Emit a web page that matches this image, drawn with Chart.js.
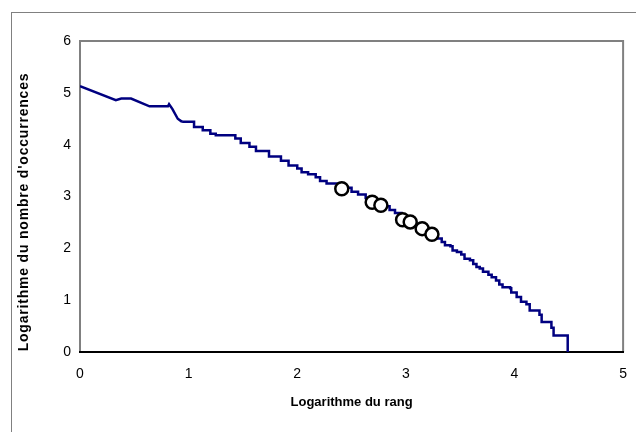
<!DOCTYPE html>
<html>
<head>
<meta charset="utf-8">
<script src="https://cdn.jsdelivr.net/npm/chart.js@4/dist/chart.umd.min.js"></script>
<style>
  html, body { margin: 0; padding: 0; background: #fff; }
  #wrap { width: 636px; height: 432px; position: relative; }
</style>
</head>
<body>
<div id="wrap"><canvas id="rangChart" width="636" height="432"></canvas></div>
<script>
    // --- DATA ---
    // début de courbe (partie sans marches), log10
    const debutX = [0, 0.33, 0.38, 0.47, 0.64, 0.81, 0.82, 0.85, 0.90, 0.94];
    const debutY = [5.13, 4.86, 4.89, 4.89, 4.74, 4.74, 4.78, 4.69, 4.50, 4.44];

    // suite en escalier : début gauche de chaque palier
    const marcheX = [0.94, 1.05, 1.13, 1.20, 1.25, 1.43, 1.48, 1.56, 1.62, 1.74, 1.85, 1.92, 2.00, 2.04, 2.10, 2.17, 2.21, 2.27, 2.41, 2.50, 2.56, 2.63, 2.69, 2.78, 2.85, 2.90, 2.96, 3.02, 3.08, 3.14, 3.19, 3.24, 3.29, 3.33, 3.36, 3.41, 3.43, 3.47, 3.51, 3.54, 3.59, 3.62, 3.65, 3.68, 3.71, 3.76, 3.79, 3.83, 3.86, 3.89, 3.96, 3.97, 4.02, 4.06, 4.11, 4.14, 4.23, 4.25, 4.34, 4.36, 4.49];
    const marcheY = [4.44, 4.34, 4.28, 4.21, 4.18, 4.12, 4.03, 3.96, 3.88, 3.77, 3.69, 3.60, 3.54, 3.47, 3.43, 3.37, 3.30, 3.25, 3.17, 3.09, 3.04, 2.97, 2.92, 2.81, 2.74, 2.68, 2.60, 2.54, 2.47, 2.41, 2.34, 2.26, 2.19, 2.12, 2.06, 2.04, 1.96, 1.93, 1.88, 1.80, 1.77, 1.70, 1.64, 1.61, 1.55, 1.49, 1.44, 1.38, 1.30, 1.25, 1.23, 1.15, 1.06, 0.97, 0.92, 0.80, 0.72, 0.58, 0.47, 0.32, 0];

    // mots marqués (cercles)
    const motsX = [2.41, 2.69, 2.77, 2.97, 3.04, 3.15, 3.24];
    const motsY = [3.15, 2.89, 2.83, 2.55, 2.51, 2.38, 2.27];

    const xTicks = [0, 1, 2, 3, 4, 5];
    const yTicks = [0, 1, 2, 3, 4, 5, 6];
    const xTitle = 'Logarithme du rang';
    const yTitle = "Logarithme du nombre d'occurrences";

    const FONT = 'Liberation Sans, Arial, sans-serif';
    const BLEU = '#000080';

    // cadre extérieur + bordure grise de la zone de tracé + titre Y
    const framePlugin = {
        id: 'frame',
        beforeDraw(chart) {
            const ctx = chart.ctx;
            const a = chart.chartArea;
            ctx.save();
            ctx.strokeStyle = '#808080';
            ctx.lineWidth = 1;
            ctx.strokeRect(11.5, 12.5, 700, 500);
            ctx.lineWidth = 2;
            ctx.beginPath();
            ctx.moveTo(a.left, a.bottom);
            ctx.lineTo(a.left, a.top);
            ctx.lineTo(a.right, a.top);
            ctx.lineTo(a.right, a.bottom);
            ctx.stroke();
            ctx.restore();
        },
        afterDraw(chart) {
            const ctx = chart.ctx;
            ctx.save();
            ctx.translate(24, 212);
            ctx.rotate(-Math.PI / 2);
            ctx.font = 'bold 14px ' + FONT;
            ctx.letterSpacing = '0.8px';
            ctx.fillStyle = '#000';
            ctx.textAlign = 'center';
            ctx.textBaseline = 'middle';
            ctx.fillText(yTitle, 0, 0);
            ctx.restore();
        }
    };

    function initChart() {
        const ctx = document.getElementById('rangChart').getContext('2d');
        new Chart(ctx, {
            type: 'scatter',
            data: {
                datasets: [
                    {
                        label: 'Mots',
                        data: motsX.map((x, i) => ({ x: x, y: motsY[i] })),
                        showLine: false,
                        pointStyle: 'circle',
                        pointRadius: 6.5,
                        pointBorderWidth: 2.5,
                        pointBorderColor: '#000',
                        pointBackgroundColor: '#fff',
                        order: 0
                    },
                    {
                        label: 'Début',
                        data: debutX.map((x, i) => ({ x: x, y: debutY[i] })),
                        showLine: true,
                        borderColor: BLEU,
                        borderWidth: 2.5,
                        pointRadius: 0,
                        tension: 0,
                        order: 1
                    },
                    {
                        label: 'Escalier',
                        data: marcheX.map((x, i) => ({ x: x, y: marcheY[i] })),
                        showLine: true,
                        stepped: 'before', // palier horizontal puis chute verticale
                        borderColor: BLEU,
                        borderWidth: 2.5,
                        pointRadius: 0,
                        order: 1
                    }
                ]
            },
            options: {
                responsive: false,
                animation: false,
                layout: { padding: { top: 41, right: 11, left: 0, bottom: 0 } },
                scales: {
                    x: {
                        type: 'linear',
                        min: 0,
                        max: 5,
                        afterBuildTicks: s => { s.ticks = xTicks.map(v => ({ value: v })); },
                        afterFit: s => { s.height = 80; },
                        grid: { display: false, drawOnChartArea: false, drawTicks: true, tickLength: 5, color: '#000' },
                        border: { display: true, color: '#000', width: 2 },
                        ticks: { color: '#000', font: { size: 14, family: FONT }, padding: 9, maxRotation: 0 },
                        title: { display: true, text: xTitle, color: '#000', font: { size: 13, weight: 'bold', family: FONT }, padding: { top: 4, bottom: 22 } }
                    },
                    y: {
                        type: 'linear',
                        min: 0,
                        max: 6,
                        afterBuildTicks: s => { s.ticks = yTicks.map(v => ({ value: v })); },
                        afterFit: s => { s.width = 80; },
                        grid: { display: false, drawOnChartArea: false, drawTicks: true, tickLength: 5, color: '#000' },
                        border: { display: false },
                        ticks: { color: '#000', font: { size: 14, family: FONT }, padding: 4 }
                    }
                },
                plugins: {
                    legend: { display: false },
                    tooltip: { enabled: false }
                }
            },
            plugins: [framePlugin]
        });
    }

    window.onload = initChart;
</script>
</body>
</html>
